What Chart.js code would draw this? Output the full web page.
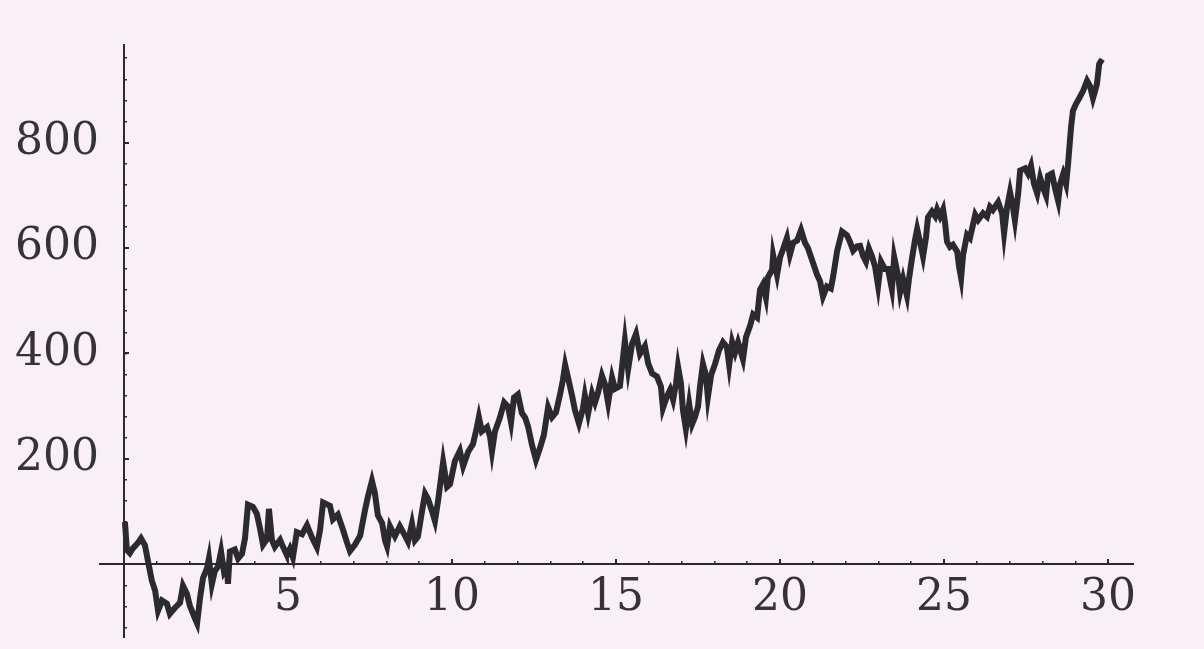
<!DOCTYPE html>
<html>
<head>
<meta charset="utf-8">
<script src="https://cdn.jsdelivr.net/npm/chart.js"></script>
<style>
  html, body { margin: 0; padding: 0; background: #f9eff7; }
  #wrap { width: 1204px; height: 649px; }
</style>
</head>
<body>
<div id="wrap"><canvas id="walk"></canvas></div>
<script>
// values
const times = [
  0.03,0.09,0.18,0.27,0.43,0.52,0.64,0.73,0.85,0.95,
  1.04,1.16,1.31,1.40,1.55,1.71,1.80,1.92,2.01,2.16,
  2.23,2.32,2.41,2.53,2.59,2.68,2.77,2.87,2.96,3.05,
  3.14,3.17,3.23,3.38,3.48,3.60,3.69,3.78,3.93,4.05,
  4.15,4.24,4.36,4.42,4.51,4.60,4.76,4.85,4.97,5.06,
  5.15,5.27,5.43,5.58,5.73,5.88,5.98,6.07,6.28,6.37,
  6.52,6.68,6.80,6.89,7.04,7.20,7.35,7.44,7.56,7.65,
  7.74,7.87,7.96,8.02,8.11,8.26,8.41,8.57,8.66,8.78,
  8.87,8.96,9.09,9.18,9.27,9.39,9.48,9.57,9.73,9.85,
  9.94,10.09,10.24,10.34,10.49,10.64,10.76,10.82,10.91,11.07,
  11.16,11.22,11.31,11.46,11.59,11.71,11.80,11.89,12.01,12.13,
  12.23,12.32,12.44,12.56,12.68,12.80,12.93,13.05,13.17,13.29,
  13.38,13.45,13.54,13.66,13.75,13.87,13.99,14.05,14.15,14.27,
  14.36,14.45,14.57,14.66,14.76,14.88,14.97,15.12,15.27,15.37,
  15.49,15.61,15.73,15.88,15.98,16.10,16.25,16.37,16.43,16.55,
  16.65,16.74,16.83,16.89,16.98,17.04,17.13,17.23,17.32,17.41,
  17.50,17.56,17.65,17.74,17.80,17.90,18.02,18.14,18.26,18.38,
  18.45,18.54,18.63,18.72,18.87,18.96,19.09,19.18,19.30,19.39,
  19.48,19.57,19.63,19.76,19.79,19.91,20.00,20.09,20.21,20.30,
  20.40,20.52,20.64,20.76,20.85,21.01,21.13,21.22,21.31,21.43,
  21.55,21.62,21.74,21.89,22.04,22.13,22.23,22.35,22.44,22.53,
  22.62,22.71,22.80,22.90,22.99,23.08,23.20,23.29,23.41,23.48,
  23.60,23.66,23.75,23.87,23.93,24.02,24.12,24.18,24.27,24.36,
  24.45,24.51,24.63,24.73,24.79,24.88,24.97,25.03,25.09,25.18,
  25.27,25.40,25.46,25.52,25.58,25.70,25.79,25.95,26.04,26.19,
  26.31,26.40,26.49,26.65,26.77,26.83,26.92,27.01,27.10,27.16,
  27.26,27.32,27.47,27.56,27.65,27.74,27.84,27.93,28.02,28.11,
  28.17,28.29,28.38,28.48,28.54,28.63,28.72,28.78,28.87,28.93,
  29.02,29.12,29.24,29.36,29.45,29.54,29.60,29.66,29.73,29.82
];
const values = [
  80,27,21,30,41,49,36,7,-31,-50,
  -88,-69,-75,-94,-83,-73,-41,-56,-79,-102,
  -112,-64,-26,-8,11,-38,-13,-4,24,-14,
  -4,-37,24,28,11,20,49,113,109,96,
  67,37,48,105,46,33,46,33,17,29,
  13,61,57,74,51,32,66,117,111,85,
  94,65,41,25,37,54,103,129,158,135,
  93,78,45,34,72,53,72,54,43,77,
  45,52,102,134,124,101,82,118,194,147,
  152,196,215,186,213,228,260,279,252,260,
  242,214,252,278,307,299,269,316,322,287,
  278,261,226,198,220,245,298,279,288,321,
  349,378,353,320,292,267,295,320,286,324,
  307,325,358,342,306,354,333,338,424,370,
  418,437,399,414,381,362,356,337,296,318,
  331,312,343,375,343,293,257,304,266,280,
  299,337,380,359,317,359,380,406,421,412,
  378,421,402,421,389,430,453,474,468,521,
  531,506,544,559,586,549,582,597,619,587,
  610,614,634,610,600,571,549,537,508,527,
  523,546,594,631,624,612,595,603,604,585,
  574,599,585,564,528,574,560,560,522,583,
  547,516,541,509,541,579,617,636,611,584,
  620,658,669,660,673,660,673,648,612,602,
  606,593,564,543,587,625,619,663,653,666,
  659,678,672,687,666,628,677,706,677,652,
  703,747,751,741,756,722,703,733,714,699,
  737,741,714,689,722,740,721,759,828,860,
  873,884,898,917,907,884,897,911,949,958
];

// tick labels and tick marks
const xTicks = [5, 10, 15, 20, 25, 30];
const xMinorTicks = [1,2,3,4,5,6,7,8,9,10,11,12,13,14,15,16,17,18,19,20,21,22,23,24,25,26,27,28,29,30];
const yTicks = [200, 400, 600, 800];
const yMinorTicks = [-120,-80,-40,40,80,120,160,200,240,280,320,360,400,440,480,520,560,600,640,680,720,760,800,840,880,920,960];

const xRange = { min: -0.73, max: 30.76 };
const yRange = { min: -138, max: 985 };

const ink = '#2b2a2e';
const labelFont = { family: 'DejaVu Serif', size: 44 };

const setTicks = list => scale => { scale.ticks = list.map(v => ({ value: v })); };
// axes drawn through the origin should not eat layout space
const noRoom = (w, h) => s => {
    if (w !== undefined) s.width = w;
    if (h !== undefined) s.height = h;
    s.paddingTop = s.paddingBottom = s.paddingLeft = s.paddingRight = 0;
};

const ctx = document.getElementById('walk').getContext('2d');
const chart = new Chart(ctx, {
    type: 'line',
    data: {
        datasets: [{
            data: times.map((t, i) => ({ x: t, y: values[i] })),
            borderColor: ink,
            borderWidth: 6,
            borderJoinStyle: 'miter',
            pointRadius: 0,
            tension: 0,
            xAxisID: 'x',
            yAxisID: 'y'
        }]
    },
    options: {
        responsive: true,
        maintainAspectRatio: false,
        animation: false,
        events: [],
        layout: { padding: { top: 45, right: 71, bottom: 12, left: 0 } },
        plugins: { legend: { display: false }, tooltip: { enabled: false } },
        scales: {
            x: {
                type: 'linear', ...xRange,
                position: { y: 0 },
                afterBuildTicks: setTicks(xTicks),
                afterFit: noRoom(undefined, 0),
                border: { display: true, color: ink, width: 2 },
                grid: { drawOnChartArea: false, color: ink, lineWidth: 2, tickLength: -6 },
                ticks: { color: '#353337', font: labelFont, padding: 14, maxRotation: 0, autoSkip: false }
            },
            xm: {
                type: 'linear', ...xRange,
                position: { y: 0 },
                afterBuildTicks: setTicks(xMinorTicks),
                afterFit: noRoom(undefined, 0),
                border: { display: false },
                grid: { drawOnChartArea: false, color: ink, lineWidth: 1.5, tickLength: -3 },
                ticks: { display: false }
            },
            y: {
                type: 'linear', ...yRange,
                position: { x: 0 },
                afterBuildTicks: setTicks(yTicks),
                afterFit: noRoom(0),
                border: { display: true, color: ink, width: 2 },
                grid: { drawOnChartArea: false, color: ink, lineWidth: 2, tickLength: -6 },
                ticks: { display: false }
            },
            ym: {
                type: 'linear', ...yRange,
                position: { x: 0 },
                afterBuildTicks: setTicks(yMinorTicks),
                afterFit: noRoom(0),
                border: { display: false },
                grid: { drawOnChartArea: false, color: ink, lineWidth: 1.5, tickLength: -3 },
                ticks: { display: false }
            },
            yl: {
                type: 'linear', ...yRange,
                position: 'left',
                afterBuildTicks: setTicks(yTicks),
                afterFit: noRoom(100),
                border: { display: false },
                grid: { display: false, drawTicks: false },
                ticks: { color: '#353337', font: labelFont, padding: 1 }
            }
        }
    }
});
</script>
</body>
</html>
